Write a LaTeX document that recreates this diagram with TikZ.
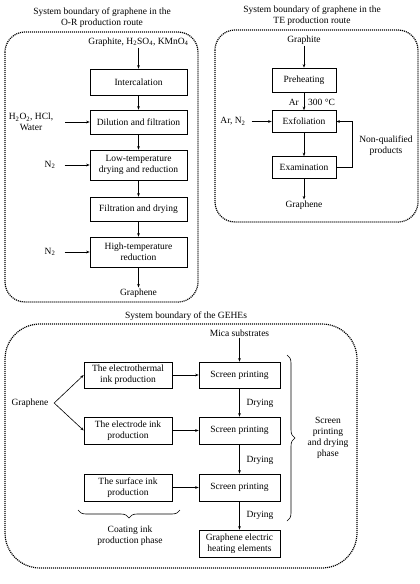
\documentclass[tikz,border=0pt]{standalone}
\usepackage{fontspec}
\setmainfont{Liberation Serif}
\usetikzlibrary{arrows.meta,decorations.pathreplacing}

\tikzset{
	box/.style={draw, line width=0.6pt, minimum width=97pt, minimum height=24pt, inner sep=2pt, align=center},
	tebox/.style={box, minimum width=64pt, minimum height=22pt},
	inkbox/.style={box, minimum width=88pt, minimum height=26pt},
	spbox/.style={box, minimum width=81pt, minimum height=26pt},
	lbl/.style={align=center, inner sep=1pt},
	arr/.style={-{Stealth[length=3.5pt,width=2.6pt]}, line width=0.6pt},
	bound/.style={line width=1.2pt, dash pattern=on 1.1pt off 0.9pt},
	phase/.style={decorate, decoration={brace, amplitude=8pt}, line width=0.6pt},
}

\begin{document}
\begin{tikzpicture}[x=1pt,y=-1pt,font=\fontsize{9.5}{11}\selectfont]
	\useasboundingbox (0,0) rectangle (420,584);
	% Parameters
	\def\orx{138.5}
	\def\tecol{304}
	\def\spx{239.5}
	\def\inkx{128}
	
	%titles
	\node[lbl] (ortitle) at (102,17.5) {System boundary of graphene in the\\O-R production route};
	\node[lbl] (tetitle) at (312,16) {System boundary of graphene in the\\TE production route};
	\node[lbl] (gtitle) at (186,316) {System boundary of the GEHEs};
	
	%boundaries
	\draw[bound, rounded corners=20pt] (5,32) rectangle (198,302);
	\draw[bound, rounded corners=20pt] (215,30) rectangle (418,222);
	\draw[bound, rounded corners=35pt] (5,324) rectangle (357,568);
	
	%O-R route
	\node[lbl] (orin) at (\orx,42) {Graphite, H\textsubscript{2}SO\textsubscript{4}, KMnO\textsubscript{4}};
	\node[box, minimum height=26pt] (inter) at (\orx,82) {Intercalation};
	\node[box] (dil) at (\orx,122) {Dilution and filtration};
	\node[box, minimum height=30pt] (lowt) at (\orx,165) {Low-temperature\\drying and reduction};
	\node[box] (filt) at (\orx,209) {Filtration and drying};
	\node[box, minimum height=30pt] (hight) at (\orx,252) {High-temperature\\reduction};
	\node[lbl] (orout) at (\orx,293) {Graphene};
	\node[lbl] (h2o) at (31,122) {H\textsubscript{2}O\textsubscript{2}, HCl,\\Water};
	\node[lbl] (nlow) at (50,165) {N\textsubscript{2}};
	\node[lbl] (nhigh) at (50,252) {N\textsubscript{2}};
	
	\draw[arr] (orin) -- (inter);
	\draw[arr] (inter) -- (dil);
	\draw[arr] (dil) -- (lowt);
	\draw[arr] (lowt) -- (filt);
	\draw[arr] (filt) -- (hight);
	\draw[arr] (hight) -- (orout);
	\draw[arr] ([xshift=11pt]h2o.east) -- (dil.west);
	\draw[arr] ([xshift=8pt]nlow.east) -- (lowt.west);
	\draw[arr] ([xshift=8pt]nhigh.east) -- (hight.west);
	
	%TE route
	\node[lbl] (tein) at (\tecol,40) {Graphite};
	\node[tebox, minimum height=24pt] (preh) at (\tecol,80) {Preheating};
	\node[tebox] (exf) at (\tecol,121.5) {Exfoliation};
	\node[tebox] (exam) at (\tecol,167.5) {Examination};
	\node[lbl, anchor=east] (ar) at (300,102) {Ar};
	\node[lbl, anchor=west] (temp) at (307,102) {300 °C};
	\node[lbl] (arn) at (233,121.5) {Ar, N\textsubscript{2}};
	\node[lbl] (nonq) at (386,146) {Non-qualified\\products};
	\node[lbl] (teout) at (\tecol,205) {Graphene};
	
	\draw[arr] (tein) -- (preh);
	\draw[arr] (preh) -- (exf);
	\draw[arr] (exf) -- (exam);
	\draw[arr] (exam) -- (teout);
	\draw[arr] (exam.east) -- ++(16,0) |- (exf.east);
	\draw[arr] ([xshift=5pt]arn.east) -- (exf.west);
	
	%GEHEs
	\node[lbl] (mica) at (\spx,333) {Mica substrates};
	\node[spbox] (sp1) at (\spx,375) {Screen printing};
	\node[spbox, minimum height=27pt] (sp2) at (\spx,430.5) {Screen printing};
	\node[spbox, minimum height=27pt] (sp3) at (\spx,487.5) {Screen printing};
	\node[spbox, minimum height=27pt] (gehe) at (\spx,543.5) {Graphene electric\\heating elements};
	\node[inkbox] (etherm) at (\inkx,375) {The electrothermal\\ink production};
	\node[inkbox, minimum height=27pt] (electr) at (\inkx,430.5) {The electrode ink\\production};
	\node[inkbox, minimum height=27pt] (surf) at (\inkx,487.5) {The surface ink\\production};
	\node[lbl] (dry1) at (260,403) {Drying};
	\node[lbl] (dry2) at (260,460) {Drying};
	\node[lbl] (dry3) at (260,515) {Drying};
	\node[lbl] (gra) at (30,403) {Graphene};
	\coordinate (fork) at ([xshift=4.5pt]gra.east);
	
	\draw[arr] (mica) -- (sp1);
	\draw[arr] (sp1) -- (sp2);
	\draw[arr] (sp2) -- (sp3);
	\draw[arr] (sp3) -- (gehe);
	\draw[arr] (etherm) -- (sp1);
	\draw[arr] (electr) -- (sp2);
	\draw[arr] (surf) -- (sp3);
	\draw[arr] (fork) -- (etherm.west);
	\draw[arr] (fork) -- (electr.west);
	
	%phases
	\draw[phase, decoration={mirror}] (78,510) -- (180,510);
	\node[lbl] (coat) at (130,536) {Coating ink\\production phase};
	\draw[phase] (287,355) -- (287,521);
	\node[lbl] (sdp) at (328,438) {Screen\\printing\\and drying\\phase};
	
\end{tikzpicture}
\end{document}
